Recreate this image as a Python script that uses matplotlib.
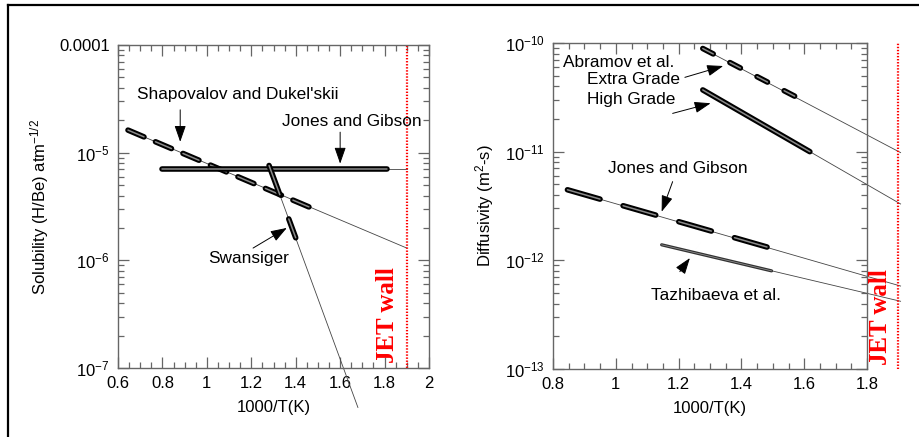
import numpy as np
import matplotlib
matplotlib.use('Agg')
import matplotlib.pyplot as plt
from matplotlib.lines import Line2D
from matplotlib.ticker import FixedLocator, LogLocator, MultipleLocator, NullFormatter

plt.rcParams['font.family'] = ['Liberation Sans', 'DejaVu Sans']
plt.rcParams['mathtext.fontset'] = 'custom'
plt.rcParams['mathtext.rm'] = 'Liberation Sans'
plt.rcParams['mathtext.it'] = 'Liberation Sans:italic'
plt.rcParams['lines.scale_dashes'] = False

# ---- left panel: solubility ----
sol_yticks = [1e-7, 1e-6, 1e-5, 1e-4]
sol_ylabels = ['10$^{-7}$', '10$^{-6}$', '10$^{-5}$', '0.0001']
sol_xticks = [0.6, 0.8, 1.0, 1.2, 1.4, 1.6, 1.8, 2.0]
sol_xlabels = ['0.6', '0.8', '1', '1.2', '1.4', '1.6', '1.8', '2']

# Shapovalov and Dukel'skii (measured range, then fit extended to JET wall)
shap_x = [0.645, 1.465]
shap_y = [1.62e-5, 3.1e-6]
shap_ext_x = [0.645, 1.9]
shap_ext_y = [1.62e-5, 1.3e-6]

# Jones and Gibson solubility
jgs_x = [0.8, 1.81]
jgs_y = [7.06e-6, 7.06e-6]
jgs_ext_x = [0.8, 1.9]
jgs_ext_y = [7.06e-6, 7.06e-6]

# Swansiger
swan_x = [1.28, 1.40]
swan_y = [7.6e-6, 1.62e-6]
swan_ext_x = [1.28, 1.68]
swan_ext_y = [7.6e-6, 4.3e-8]

# ---- right panel: diffusivity ----
dif_yticks = [1e-13, 1e-12, 1e-11, 1e-10]
dif_ylabels = ['10$^{-13}$', '10$^{-12}$', '10$^{-11}$', '10$^{-10}$']
dif_xticks = [0.8, 1.0, 1.2, 1.4, 1.6, 1.8]
dif_xlabels = ['0.8', '1', '1.2', '1.4', '1.6', '1.8']

extra_x = [1.277, 1.592]
extra_y = [8.9e-11, 3.0e-11]
extra_ext_x = [1.277, 1.907]
extra_ext_y = [8.9e-11, 9.8e-12]

high_x = [1.277, 1.618]
high_y = [3.7e-11, 1.0e-11]
high_ext_x = [1.277, 1.907]
high_ext_y = [3.7e-11, 3.3e-12]

jgd_x = [0.846, 1.496]
jgd_y = [4.46e-12, 1.29e-12]
jgd_ext_x = [0.846, 1.907]
jgd_ext_y = [4.46e-12, 5.8e-13]

taz_x = [1.146, 1.496]
taz_y = [1.39e-12, 8.0e-13]
taz_ext_x = [1.146, 1.907]
taz_ext_y = [1.39e-12, 4.2e-13]

jet_wall = 1.9

FS = 12
AFS = 12.4
spine_c = '#666666'
thin_c = '#444444'


def thick(ax, x, y, dashes=None):
    kw = dict(solid_capstyle='round', dash_capstyle='round')
    if dashes is None:
        ax.plot(x, y, color='black', lw=4.0, **kw)
        ax.plot(x, y, color='#8a8a8a', lw=1.1, **kw)
    else:
        ax.plot(x, y, color='black', lw=4.0, dashes=dashes, **kw)
        ax.plot(x, y, color='#8a8a8a', lw=1.1, dashes=dashes, **kw)


def arrow(ax, text_xy, tip_xy):
    ax.annotate('', xy=tip_xy, xytext=text_xy,
                arrowprops=dict(arrowstyle='-|>,head_length=1.0,head_width=0.35',
                                color='black', lw=0.7, shrinkA=0, shrinkB=0))


def style(ax, xticks, xlabels, yticks, ylabels, xmin, xmax, ymin, ymax):
    ax.set_yscale('log')
    ax.set_xlim(xmin, xmax)
    ax.set_ylim(ymin, ymax)
    ax.xaxis.set_major_locator(FixedLocator(xticks))
    ax.set_xticklabels(xlabels)
    ax.xaxis.set_minor_locator(MultipleLocator(0.05))
    ax.yaxis.set_major_locator(FixedLocator(yticks))
    ax.set_yticklabels(ylabels)
    ax.yaxis.set_minor_locator(LogLocator(base=10, subs=np.arange(2, 10)))
    ax.yaxis.set_minor_formatter(NullFormatter())
    ax.tick_params(which='both', direction='in', top=True, right=True,
                   color=spine_c, labelsize=FS, width=0.9)
    ax.tick_params(which='major', length=8, pad=6)
    ax.tick_params(which='minor', length=4.5)
    for s in ax.spines.values():
        s.set_color(spine_c)
        s.set_linewidth(1.0)
    ax.set_xlabel('1000/T(K)', fontsize=FS, labelpad=6)


fig = plt.figure(figsize=(9.19, 4.37), dpi=100)
ax1 = fig.add_axes([118 / 919, 1 - 368 / 437, 311 / 919, 323 / 437])
ax2 = fig.add_axes([553 / 919, 1 - 369 / 437, 314 / 919, 326 / 437])

# left panel
style(ax1, sol_xticks, sol_xlabels, sol_yticks, sol_ylabels, 0.6, 2.0, 1e-7, 1e-4)
ax1.set_ylabel('Solubility (H/Be) atm$^{-1/2}$', fontsize=FS, labelpad=6)
ax1.plot(shap_ext_x, shap_ext_y, color=thin_c, lw=0.6)
ax1.plot(jgs_ext_x, jgs_ext_y, color=thin_c, lw=0.6)
ax1.plot(swan_ext_x, swan_ext_y, color=thin_c, lw=0.6, clip_on=False)
thick(ax1, shap_x, shap_y, dashes=(12.5, 9.0))
thick(ax1, jgs_x, jgs_y)
thick(ax1, swan_x, swan_y, dashes=(22.4, 18.6))
ax1.axvline(jet_wall, color='red', lw=1.6, ls=(0, (1, 1.2)))
ax1.text(1.815, 3.1e-7, 'JET wall', rotation=90, color='red', fontsize=18,
         fontweight='bold', family='Liberation Serif', ha='center', va='center')

ax1.text(1.14, 3.5e-5, "Shapovalov and Dukel'skii", fontsize=AFS, ha='center', va='center')
arrow(ax1, (0.88, 2.5e-5), (0.88, 1.26e-5))
ax1.text(1.654, 1.93e-5, 'Jones and Gibson', fontsize=AFS, ha='center', va='center')
arrow(ax1, (1.60, 1.55e-5), (1.60, 7.9e-6))
ax1.text(1.186, 1.05e-6, 'Swansiger', fontsize=AFS, ha='center', va='center')
arrow(ax1, (1.208, 1.3e-6), (1.36, 2.0e-6))

# right panel
style(ax2, dif_xticks, dif_xlabels, dif_yticks, dif_ylabels, 0.8, 1.8, 1e-13, 1e-10)
ax2.set_ylabel('Diffusivity (m$^2$-s)', fontsize=FS, labelpad=6)
for ex, ey in [(extra_ext_x, extra_ext_y), (high_ext_x, high_ext_y),
               (jgd_ext_x, jgd_ext_y), (taz_ext_x, taz_ext_y)]:
    ax2.plot(ex, ey, color=thin_c, lw=0.6, clip_on=False)
thick(ax2, extra_x, extra_y, dashes=(8.5, 13.5))
thick(ax2, high_x, high_y)
thick(ax2, jgd_x, jgd_y, dashes=(24.4, 17.3))
ax2.plot(taz_x, taz_y, color='#333333', lw=2.3, solid_capstyle='round')
ax2.plot(taz_x, taz_y, color='#999999', lw=0.5)
ax2.plot([jet_wall, jet_wall], [1e-13, 1e-10], color='red', lw=1.6,
         ls=(0, (1, 1.2)), clip_on=False)
ax2.text(1.842, 3.0e-13, 'JET wall', rotation=90, color='red', fontsize=18,
         fontweight='bold', family='Liberation Serif', ha='center', va='center')

ax2.text(0.833, 6.6e-11, 'Abramov et al.', fontsize=AFS, ha='left', va='center')
ax2.text(0.907, 4.57e-11, 'Extra Grade', fontsize=AFS, ha='left', va='center')
ax2.text(0.907, 3.03e-11, 'High Grade', fontsize=AFS, ha='left', va='center')
arrow(ax2, (1.220, 4.83e-11), (1.342, 6.14e-11))
arrow(ax2, (1.181, 2.25e-11), (1.302, 2.79e-11))
ax2.text(1.199, 7.03e-12, 'Jones and Gibson', fontsize=AFS, ha='center', va='center')
arrow(ax2, (1.181, 5.3e-12), (1.146, 2.8e-12))
ax2.text(1.319, 4.7e-13, 'Tazhibaeva et al.', fontsize=AFS, ha='center', va='center')
arrow(ax2, (1.204, 7.87e-13), (1.236, 1.05e-12))

# outer frame (top and left edges only)
fig.add_artist(Line2D([8 / 919, 1.0], [1 - 5 / 437, 1 - 5 / 437],
                      transform=fig.transFigure, color='black', lw=1.6))
fig.add_artist(Line2D([8 / 919, 8 / 919], [0.0, 1 - 5 / 437],
                      transform=fig.transFigure, color='black', lw=1.6))

fig.savefig('out.png', dpi=100)
